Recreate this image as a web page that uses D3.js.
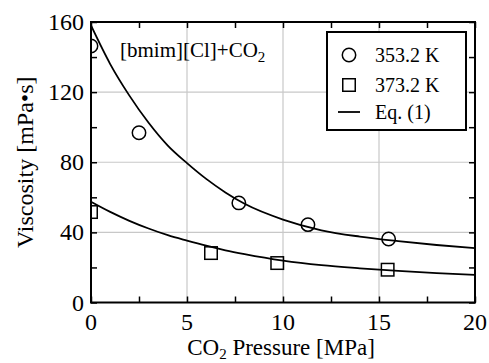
<!DOCTYPE html>
<html>
<head>
<meta charset="utf-8">
<script src="https://cdn.jsdelivr.net/npm/d3@7"></script>
<style>
  body { margin: 0; background: #fff; }
</style>
</head>
<body>
<svg id="chart" width="489" height="363" font-family="'Liberation Serif', 'Times New Roman', serif"></svg>
<script>
// measured points
const p353 = [0, 2.5, 7.7, 11.3, 15.5];
const v353 = [146.3, 96.8, 56.8, 44.4, 36.2];
const p373 = [0, 6.25, 9.7, 15.45];
const v373 = [51.6, 28.2, 22.5, 18.7];

// Eq. (1) curves
const eqP = [0, 1, 2, 3, 4, 5, 6, 7, 8, 10, 12, 14, 16, 18, 20];
const eq353 = [158, 136, 118, 102.5, 89.5, 79.5, 70.5, 62.8, 56.3, 47.3, 41.2, 37.6, 35, 32.8, 31];
const eq373 = [57.5, 51.7, 46.6, 42.2, 38.4, 35.3, 32.4, 29.8, 27.6, 23.9, 21.3, 19.5, 18, 16.8, 15.8];

const xTicks = [0, 5, 10, 15, 20];
const yTicks = [0, 40, 80, 120, 160];
const legendLabels = ["353.2 K", "373.2 K", "Eq. (1)"];

const svg = d3.select("#chart");
const pL = 91, pR = 475, pT = 22, pB = 302.5;

const x = d3.scaleLinear().domain([0, 20]).range([pL, pR]);
const y = d3.scaleLinear().domain([0, 160]).range([pB, pT]);

svg.append("defs").append("clipPath").attr("id", "plot")
  .append("rect").attr("x", pL).attr("y", pT)
  .attr("width", pR - pL).attr("height", pB - pT);

// grid
const grid = svg.append("g").attr("stroke", "#c8c8c8").attr("stroke-width", 1.2);
grid.selectAll(".gx").data([5, 10, 15]).join("line")
  .attr("x1", d => x(d)).attr("x2", d => x(d)).attr("y1", pT).attr("y2", pB);
grid.selectAll(".gy").data([40, 80, 120]).join("line")
  .attr("y1", d => y(d)).attr("y2", d => y(d)).attr("x1", pL).attr("x2", pR);

// axes with inward ticks on all four sides
const minorX = d3.range(0, 20.01, 2.5);
const minorY = d3.range(0, 160.01, 20);
const tickLen = 6;
svg.append("g").attr("transform", `translate(0,${pB})`)
  .call(d3.axisBottom(x).tickValues(minorX).tickSize(-tickLen).tickFormat(""));
svg.append("g").attr("transform", `translate(0,${pT})`)
  .call(d3.axisTop(x).tickValues(minorX).tickSize(-tickLen).tickFormat(""));
svg.append("g").attr("transform", `translate(${pL},0)`)
  .call(d3.axisLeft(y).tickValues(minorY).tickSize(-tickLen).tickFormat(""));
svg.append("g").attr("transform", `translate(${pR},0)`)
  .call(d3.axisRight(y).tickValues(minorY).tickSize(-tickLen).tickFormat(""));
svg.selectAll(".domain").remove();
svg.selectAll(".tick line").attr("stroke", "#000").attr("stroke-width", 1.5);

svg.append("rect").attr("x", pL).attr("y", pT)
  .attr("width", pR - pL).attr("height", pB - pT)
  .attr("fill", "none").attr("stroke", "#000").attr("stroke-width", 2);

// tick labels
svg.selectAll(".xl").data(xTicks).join("text")
  .attr("x", d => x(d)).attr("y", 330)
  .attr("text-anchor", "middle").attr("font-size", 24)
  .text(d => d);
svg.selectAll(".yl").data(yTicks).join("text")
  .attr("x", 84).attr("y", d => y(d) + 8)
  .attr("text-anchor", "end").attr("font-size", 24)
  .text(d => d);

// axis titles
const xt = svg.append("text").attr("x", (pL + pR) / 2 - 2).attr("y", 355)
  .attr("text-anchor", "middle").attr("font-size", 23);
xt.append("tspan").text("CO");
xt.append("tspan").attr("font-size", 15).attr("dy", 4).text("2");
xt.append("tspan").attr("dy", -4).text(" Pressure [MPa]");

svg.append("text")
  .attr("transform", `translate(33,${(pT + pB) / 2}) rotate(-90)`)
  .attr("text-anchor", "middle").attr("font-size", 24)
  .text("Viscosity [mPa\u2022s]");

// curves and markers
const plot = svg.append("g").attr("clip-path", "url(#plot)");
const line = d3.line().x(d => x(d[0])).y(d => y(d[1])).curve(d3.curveMonotoneX);
[eq353, eq373].forEach(vals => {
  plot.append("path").datum(eqP.map((p, i) => [p, vals[i]]))
    .attr("d", line).attr("fill", "none").attr("stroke", "#000").attr("stroke-width", 1.8);
});

plot.selectAll(".c").data(p353.map((p, i) => [p, v353[i]])).join("circle")
  .attr("cx", d => x(d[0])).attr("cy", d => y(d[1])).attr("r", 6.7)
  .attr("fill", "none").attr("stroke", "#000").attr("stroke-width", 1.5);
const s = 12.5;
plot.selectAll(".s").data(p373.map((p, i) => [p, v373[i]])).join("rect")
  .attr("x", d => x(d[0]) - s / 2).attr("y", d => y(d[1]) - s / 2)
  .attr("width", s).attr("height", s)
  .attr("fill", "none").attr("stroke", "#000").attr("stroke-width", 1.5);

// annotation
const ann = svg.append("text").attr("x", 120).attr("y", 57).attr("font-size", 21);
ann.append("tspan").text("[bmim][Cl]+CO");
ann.append("tspan").attr("font-size", 15).attr("dy", 5).text("2");

// legend
const lg = svg.append("g");
lg.append("rect").attr("x", 327).attr("y", 32).attr("width", 139).attr("height", 98)
  .attr("fill", "#fff").attr("stroke", "#000").attr("stroke-width", 2);
const rowY = [55, 85, 112];
lg.append("circle").attr("cx", 349).attr("cy", rowY[0]).attr("r", 6.7)
  .attr("fill", "none").attr("stroke", "#000").attr("stroke-width", 1.5);
lg.append("rect").attr("x", 349 - s / 2).attr("y", rowY[1] - s / 2).attr("width", s).attr("height", s)
  .attr("fill", "none").attr("stroke", "#000").attr("stroke-width", 1.5);
lg.append("line").attr("x1", 338).attr("x2", 360).attr("y1", rowY[2]).attr("y2", rowY[2])
  .attr("stroke", "#000").attr("stroke-width", 1.8);
lg.selectAll(".lt").data(legendLabels).join("text")
  .attr("x", 375).attr("y", (d, i) => rowY[i] + 7).attr("font-size", 20)
  .text(d => d);
</script>
</body>
</html>
